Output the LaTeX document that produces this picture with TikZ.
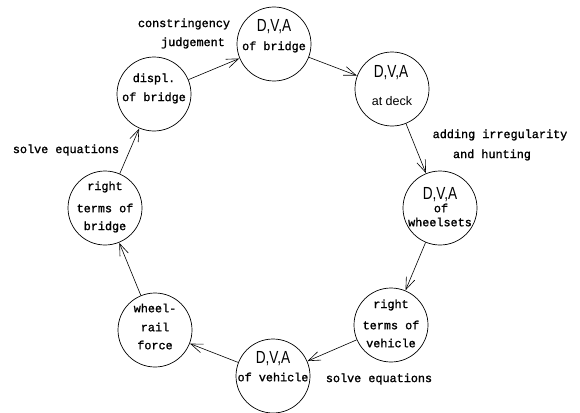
\documentclass[tikz,border=0pt]{standalone}
\usepackage{fontspec}
\setmainfont{Liberation Mono}[BoldFont=Liberation Mono,BoldFeatures={FakeBold=1.3}]
\newfontfamily\dvafont{Liberation Sans}
\usetikzlibrary{arrows.meta}
\begin{document}
\begin{tikzpicture}[x=1pt,y=-1pt,
  st/.style={circle,draw,line width=0.7pt,minimum size=74pt,inner sep=0pt},
  arr/.style={-{Straight Barb[length=12pt,width=9pt]},line width=0.6pt,shorten >=0.3pt},
  txt/.style={font=\bfseries\fontsize{11.8}{12}\selectfont,inner sep=0pt},
  sanstxt/.style={font=\dvafont\fontsize{12.5}{13}\selectfont,inner sep=0pt},
  dva/.style={font=\dvafont\fontsize{17.5}{17}\selectfont,inner sep=0pt,xscale=0.78}]
\useasboundingbox (0,0) rectangle (580,412);
% circles
\node[st] (b1) at (274,44) {};
\node[st] (b2) at (392,89) {};
\node[st] (b3) at (440,208) {};
\node[st] (b4) at (391,325) {};
\node[st] (b5) at (273,376) {};
\node[st] (b6) at (155,330) {};
\node[st] (b7) at (105,208) {};
\node[st] (b8) at (154,94) {};
% texts inside
\node[dva] (t1a) at (274,27) {D,V,A};
\node[txt] (t1b) at (274,47) {of bridge};
\node[dva] (t2a) at (391,73) {D,V,A};
\node[sanstxt] (t2b) at (392,101) {at deck};
\node[dva] (t3a) at (440,195) {D,V,A};
\node[txt] (t3b) at (441,208) {of};
\node[txt] (t3c) at (440,222) {wheelsets};
\node[txt] (t4a) at (391,305) {right};
\node[txt] (t4b) at (391,325) {terms of};
\node[txt] (t4c) at (391,343) {vehicle};
\node[dva] (t5a) at (273,359) {D,V,A};
\node[txt] (t5b) at (273,377) {of vehicle};
\node[txt] (t6a) at (155,308) {wheel-};
\node[txt] (t6b) at (155,327) {rail};
\node[txt] (t6c) at (155,345) {force};
\node[txt] (t7a) at (105,187) {right};
\node[txt] (t7b) at (105,208) {terms of};
\node[txt] (t7c) at (105,227) {bridge};
\node[txt] (t8a) at (154,79) {displ.};
\node[txt] (t8b) at (154,98) {of bridge};
% outside labels
\node[txt] (l1) at (184,24) {constringency};
\node[txt] (l2) at (193,43) {judgement};
\node[txt] (l3) at (500,135) {adding irregularity};
\node[txt] (l4) at (492,155) {and hunting};
\node[txt] (l5) at (66,150) {solve equations};
\node[txt] (l6) at (379,379) {solve equations};
% arrows
\draw[arr] (b1) -- (b2);
\draw[arr] (b2) -- (b3);
\draw[arr] (b3) -- (b4);
\draw[arr] (b4) -- (b5);
\draw[arr] (b5) -- (b6);
\draw[arr] (b6) -- (b7);
\draw[arr] (b7) -- (b8);
\draw[arr] (b8) -- (b1);
\end{tikzpicture}
\end{document}
